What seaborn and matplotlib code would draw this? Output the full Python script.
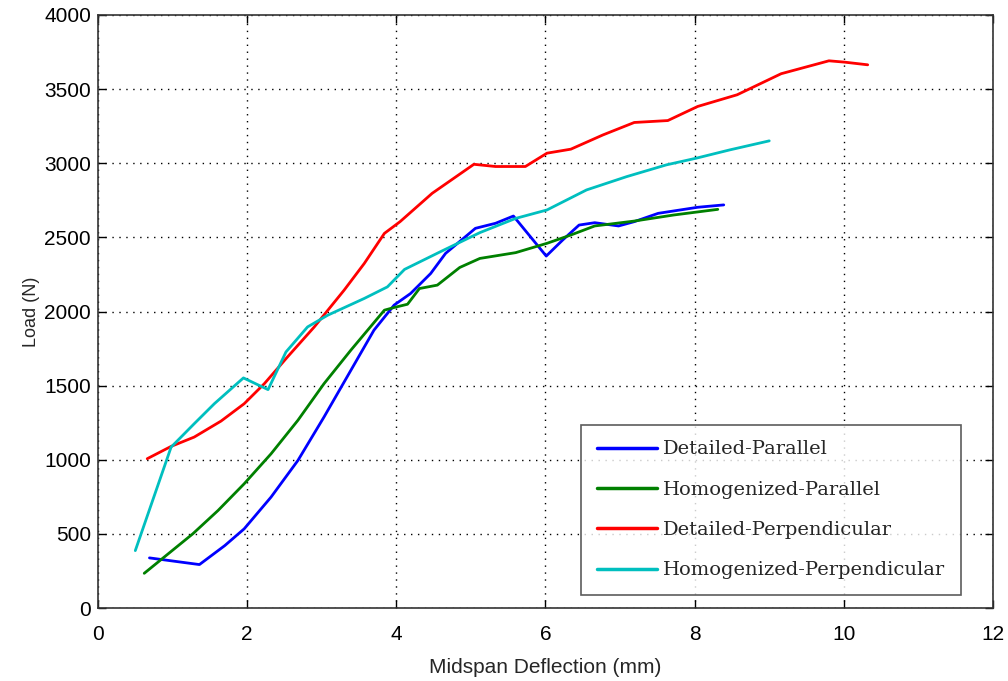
import matplotlib
matplotlib.use("Agg")
import matplotlib.pyplot as plt
import seaborn as sns
import pandas as pd

# Detailed-Parallel
dp_x = [0.69, 1.12, 1.36, 1.70, 1.96, 2.32, 2.68, 3.03, 3.39, 3.70, 3.97, 4.19, 4.46, 4.66,
        5.06, 5.33, 5.57, 6.01, 6.23, 6.45, 6.66, 6.98, 7.19, 7.51, 8.04, 8.39]
dp_y = [338, 309, 293, 421, 534, 748, 995, 1288, 1603, 1874, 2043, 2121, 2256, 2392,
        2561, 2595, 2644, 2374, 2482, 2583, 2599, 2577, 2606, 2662, 2703, 2719]

# Homogenized-Parallel
hp_x = [0.62, 0.94, 1.27, 1.61, 1.96, 2.32, 2.68, 3.03, 3.39, 3.84, 3.97, 4.15, 4.31, 4.55,
        4.85, 5.12, 5.60, 6.02, 6.34, 6.66, 7.19, 7.72, 8.31]
hp_y = [234, 365, 500, 658, 838, 1040, 1266, 1513, 1739, 2009, 2027, 2049, 2155, 2178,
        2297, 2358, 2397, 2460, 2516, 2577, 2610, 2651, 2689]

# Detailed-Perpendicular
dpe_x = [0.66, 0.98, 1.29, 1.65, 1.96, 2.23, 2.54, 2.90, 3.30, 3.57, 3.84, 4.05, 4.48,
         5.04, 5.33, 5.73, 6.02, 6.34, 6.77, 7.19, 7.64, 8.04, 8.57, 9.16, 9.80, 10.01, 10.32]
dpe_y = [1007, 1090, 1153, 1261, 1378, 1513, 1693, 1896, 2144, 2324, 2527, 2606, 2797,
         2993, 2978, 2978, 3068, 3095, 3191, 3275, 3288, 3383, 3462, 3604, 3691, 3682, 3664]

# Homogenized-Perpendicular
hpe_x = [0.50, 0.98, 1.29, 1.56, 1.95, 2.28, 2.52, 2.81, 3.08, 3.57, 3.88, 4.11, 4.59,
         5.12, 5.60, 6.02, 6.55, 7.09, 7.62, 8.02, 8.47, 9.00]
hpe_y = [387, 1085, 1243, 1378, 1552, 1473, 1727, 1896, 1975, 2088, 2166, 2284, 2403,
         2532, 2628, 2685, 2820, 2910, 2989, 3034, 3090, 3151]

series_names = ["Detailed-Parallel", "Homogenized-Parallel",
                "Detailed-Perpendicular", "Homogenized-Perpendicular"]
series_colors = ["#0000ff", "#008000", "#ff0000", "#00bfbf"]

x_ticks = [0, 2, 4, 6, 8, 10, 12]
y_ticks = [0, 500, 1000, 1500, 2000, 2500, 3000, 3500, 4000]

frames = []
for name, xs, ys in zip(series_names, [dp_x, hp_x, dpe_x, hpe_x], [dp_y, hp_y, dpe_y, hpe_y]):
    frames.append(pd.DataFrame({"x": xs, "y": ys, "series": name}))
df = pd.concat(frames, ignore_index=True)

sns.set_style("white")
plt.rcParams["font.family"] = ["Liberation Sans", "DejaVu Sans"]

fig = plt.figure(figsize=(10.08, 6.81), dpi=100)
ax = fig.add_axes([98 / 1008, 73 / 681, 895 / 1008, 593 / 681])

sns.lineplot(data=df, x="x", y="y", hue="series", hue_order=series_names,
             palette=dict(zip(series_names, series_colors)), sort=False,
             estimator=None, units="series", linewidth=2.0, ax=ax, legend=True)

ax.set_xlim(0, 12)
ax.set_ylim(0, 4000)
ax.set_xticks(x_ticks)
ax.set_yticks(y_ticks)
ax.set_xticklabels([str(t) for t in x_ticks], fontsize=15)
ax.set_yticklabels([str(t) for t in y_ticks], fontsize=15)
ax.set_xlabel("Midspan Deflection (mm)", fontsize=15, labelpad=10)
ax.set_ylabel("Load (N)", fontsize=13, labelpad=3)

ax.grid(True, linestyle=(0, (1, 4)), color="black", linewidth=1.0)
ax.tick_params(axis="both", which="both", direction="in", length=6, width=1,
               top=True, right=True, bottom=True, left=True, colors="black", pad=5)
ax.tick_params(axis="x", pad=12)
for s in ax.spines.values():
    s.set_visible(True)
    s.set_color("#333333")
    s.set_linewidth(1.2)

handles, labels = ax.get_legend_handles_labels()
leg = ax.legend(handles, labels, loc="upper left", bbox_to_anchor=(0.54, 0.309),
                borderaxespad=0, frameon=True, fancybox=False, edgecolor="#333333",
                prop={"family": "DejaVu Serif", "size": 14}, handlelength=3.1,
                labelspacing=1.15, borderpad=0.8, handletextpad=0.3)
leg.get_frame().set_linewidth(1.2)
for line in leg.get_lines():
    line.set_linewidth(2.5)

fig.savefig("out.png", dpi=100)
